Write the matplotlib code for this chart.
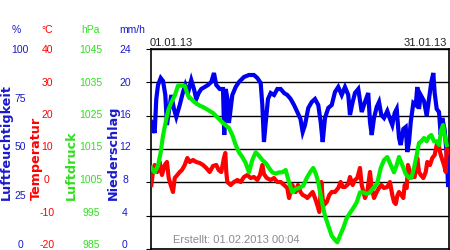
import matplotlib
matplotlib.use("Agg")
import matplotlib.pyplot as plt
import numpy as np

# ---- data (time in days since 01.01.13 00:00) ----
hum_t = [0.03, 0.38, 0.55, 0.73, 1.01, 1.25, 1.49, 1.66, 1.84, 2.11, 2.39, 2.63, 2.99, 3.33, 3.57,
         3.85, 4.19, 4.47, 4.71, 4.96, 5.23, 5.59, 5.93, 6.27, 6.55, 6.79, 7.15, 7.49, 7.62, 7.77,
         7.96, 8.11, 8.46, 8.81, 9.15, 9.67, 10.19, 10.71, 11.06, 11.41, 11.58, 11.75, 11.93, 12.17,
         12.45, 12.80, 13.14, 13.49, 13.84, 14.18, 14.53, 14.88, 15.22, 15.55, 15.78, 16.02, 16.36,
         16.72, 17.06, 17.40, 17.65, 17.86, 18.10, 18.44, 18.80, 19.14, 19.48, 19.84, 20.18, 20.52,
         20.70, 20.98, 21.22, 21.56, 21.92, 22.26, 22.60, 22.78, 22.96, 23.20, 23.48, 23.72, 23.96,
         24.24, 24.58, 24.86, 25.10, 25.35, 25.56, 25.80, 25.98, 26.25, 26.50, 26.66, 26.84, 27.02,
         27.29, 27.54, 27.70, 27.88, 28.06, 28.40, 28.68, 28.92, 29.16, 29.37, 29.51, 29.72, 29.96,
         30.14, 30.30, 30.55, 30.76, 30.90]
hum_v = [63.5, 58, 75, 82, 85.5, 84, 77, 62, 68, 77, 70, 66, 72, 78.5, 82,
         78, 84.5, 80, 75, 78, 80, 81, 82, 83.5, 88, 82, 80, 80, 57, 80,
         75, 63, 77, 81, 83.5, 86, 87, 87, 85.5, 83, 72, 53.5, 63, 75,
         78, 77, 80, 80, 78, 77, 75, 72, 68.5, 65, 58.5, 62, 70.5,
         73.5, 75, 72, 63.5, 53.5, 65.5, 70.5, 72, 78.5, 81, 77, 81, 77,
         67, 73.5, 78, 80, 68.5, 73.5, 78, 63.5, 57, 65.5, 71, 73.5, 67,
         65.5, 69, 65, 62, 68, 70, 55.5, 52, 60, 61, 48.5, 53.5, 63.5,
         73, 72, 81, 70, 77, 74, 66.5, 75, 83.5, 88, 78, 70, 68.5,
         57, 65.5, 59.5, 47, 32]

pres_t = [0.03, 0.38, 0.73, 1.01, 1.25, 1.59, 1.84, 2.11, 2.47, 2.81, 3.15, 3.51, 3.85, 4.19, 4.55,
          5.07, 5.41, 5.93, 6.45, 6.97, 7.49, 8.11, 8.46, 8.81, 9.15, 9.50, 9.85, 10.19, 10.54,
          10.89, 11.23, 11.58, 11.93, 12.28, 12.62, 12.97, 13.32, 13.66, 14.01, 14.36, 14.70, 15.05,
          15.40, 15.84, 16.20, 16.54, 16.88, 17.16, 17.40, 17.65, 17.86, 18.10, 18.44, 18.80, 19.14,
          19.38, 19.66, 20.00, 20.36, 20.70, 21.05, 21.40, 21.74, 22.08, 22.44, 22.78, 23.13, 23.20,
          23.54, 23.90, 24.24, 24.58, 24.94, 25.28, 25.56, 25.80, 26.14, 26.50, 26.84, 27.08, 27.36,
          27.64, 27.88, 28.12, 28.40, 28.68, 28.92, 29.16, 29.44, 29.72, 29.96, 30.20, 30.38, 30.55,
          30.76]
pres_v = [1009.3, 1008, 1010, 1014, 1019, 1024, 1027, 1029, 1031, 1034, 1034, 1034, 1031, 1030, 1029,
          1028, 1027.6, 1026.7, 1025.8, 1024.3, 1022.8, 1021.3, 1019.2, 1016.2, 1014, 1012.6, 1010.8,
          1008, 1011.7, 1014, 1013, 1011.7, 1010.8, 1009.3, 1008, 1007.6, 1008, 1008, 1008.7, 1005,
          1002, 1003, 1003.3, 1004, 1006.3, 1008, 1009.3, 1007.5, 1005, 1001.2, 998, 995, 992, 989,
          987.7, 987, 989, 991.3, 994.3, 995.8, 997.3, 999, 1002, 1002, 1001.5, 1002, 1003.3, 1003.3,
          1004.8, 1009.3, 1011.7, 1012.6, 1010.2, 1008, 1010.2, 1012.6, 1010.2, 1007.5, 1006.3, 1006.3,
          1009.3, 1013.2, 1016.8, 1017.3, 1018.3, 1017.3, 1018.7, 1019.2, 1017.3, 1017.3, 1016.2,
          1020.7, 1022.2, 1019.2, 1016.2]

temp_t = [0.03, 0.21, 0.38, 0.66, 0.90, 1.14, 1.43, 1.66, 1.84, 2.05, 2.29, 2.47, 2.74, 2.99, 3.22,
          3.51, 3.78, 4.03, 4.37, 4.71, 5.07, 5.41, 5.75, 6.11, 6.45, 6.79, 7.04, 7.31, 7.59, 7.73,
          7.83, 7.94, 8.29, 8.63, 8.98, 9.33, 9.67, 10.02, 10.37, 10.71, 11.06, 11.34, 11.58, 11.75,
          12.04, 12.45, 12.80, 13.14, 13.49, 13.84, 14.18, 14.36, 14.70, 15.05, 15.29, 15.55, 15.78,
          16.02, 16.26, 16.54, 16.82, 17.06, 17.30, 17.51, 17.65, 17.72, 17.86, 18.00, 18.28, 18.55,
          18.80, 19.14, 19.48, 19.73, 19.94, 20.18, 20.52, 20.70, 20.98, 21.22, 21.46, 21.74, 21.92,
          22.26, 22.50, 22.78, 22.96, 23.20, 23.48, 23.72, 23.96, 24.24, 24.58, 24.86, 25.10, 25.28,
          25.46, 25.62, 25.80, 26.04, 26.25, 26.39, 26.60, 26.73, 26.94, 27.18, 27.43, 27.70, 27.88,
          28.06, 28.33, 28.58, 28.74, 29.02, 29.26, 29.51, 29.72, 29.89, 30.06, 30.24, 30.48, 30.66,
          30.76, 30.90]
temp_v = [-0.8, 3.1, 5.2, 3.1, 6.1, 2.2, 5.2, 6.1, 1.3, -0.8, -2.9, 1.3, 2.2, 3.1, 3.7,
          5.2, 7.3, 6.1, 6.7, 6.1, 5.8, 5.2, 4.3, 3.1, 4.9, 5.2, 3.7, 3.1, 7.3, 8.8,
          3.1, 0.1, -0.8, 0.1, 0.7, 0.1, 1.6, 2.2, 1.3, 1.6, 0.7, 2.2, 5.2, 2.5,
          1.3, 0.7, 1.3, 0.1, 0.1, -0.8, -1.7, -4.7, -0.8, -2.9, -0.8, -2.9, -3.8,
          -4.1, -4.7, -3.8, -2.9, -4.7, -6.8, -8.9, -2.9, 0.1, -5.0, -6.8, -5.9, -3.8,
          -2.9, -2.9, -1.7, 0.1, -1.4, -1.4, -0.5, 1.6, -0.8, 0.7, 1.3, 4.3, -0.8,
          -4.7, -2.9, 3.1, -1.7, -4.7, -2.9, -1.7, -0.8, -1.7, -1.4, 0.1, -3.8, -5.9,
          -6.5, -4.1, -2.9, -3.8, -4.7, -0.8, -1.7, 5.2, 3.1, 1.6, 1.6, 7.3, 3.1,
          2.2, 1.3, 3.1, 6.1, 5.2, 7.3, 8.2, 11.2, 12.1, 9.1, 7.3, 5.2, 3.1,
          10, 9.1]

hum_ticks = ["100", "75", "50", "25", "0"]
temp_ticks = ["40", "30", "20", "10", "0", "-10", "-20"]
pres_ticks = ["1045", "1035", "1025", "1015", "1005", "995", "985"]
rain_ticks = ["24", "20", "16", "12", "8", "4", "0"]
units = ["%", "°C", "hPa", "mm/h"]
titles = ["Luftfeuchtigkeit", "Temperatur", "Luftdruck", "Niederschlag"]
date_start, date_end = "01.01.13", "31.01.13"
created = "Erstellt: 01.02.2013 00:04"

# ---- styling ----
W, H = 450, 250
plt.rcParams['font.family'] = ['Liberation Sans', 'DejaVu Sans']
BLUE = '#0000ee'
RED = '#ff0000'
GREEN = '#00ee00'
TBLUE = '#1a1acc'
TGREEN = '#33dd22'

fig = plt.figure(figsize=(W / 100, H / 100), dpi=100)
left, right, top, bottom = 151, 449, 49, 249
ax = fig.add_axes([left / W, 1 - bottom / H, (right - left) / W, (bottom - top) / H])
ax.set_xlim(0, 31)
ax.set_ylim(0, 100)
ax.set_yticks(np.linspace(0, 100, 7))
ax.set_xticks([])
ax.tick_params(left=False, labelleft=False)
ax.grid(axis='y', color='black', lw=1.0)
for s in ax.spines.values():
    s.set_color('black')
    s.set_linewidth(1.2)

ax.plot(hum_t, hum_v, color=BLUE, lw=3.0, solid_joinstyle='miter', zorder=3)

axT = ax.twinx()
axT.set_ylim(-20, 40)
axT.axis('off')
axT.plot(temp_t, temp_v, color=RED, lw=3.0, zorder=3)

axP = ax.twinx()
axP.set_ylim(985, 1045)
axP.axis('off')
axP.plot(pres_t, pres_v, color=GREEN, lw=3.0, zorder=3)

fs = 7.5
def fy(py):
    return 1 - py / H

def col(xc, labels, color):
    n = len(labels)
    for i, lab in enumerate(labels):
        py = 50 + i * 195 / (n - 1)
        fig.text(xc / W, fy(py), lab, color=color, fontsize=fs, ha='center', va='center')

col(20, hum_ticks, TBLUE)
col(47, temp_ticks, RED)
col(91, pres_ticks, TGREEN)
col(125, rain_ticks, TBLUE)

for xc, u, c in zip([16, 47, 90, 132], units, [TBLUE, RED, TGREEN, TBLUE]):
    fig.text(xc / W, fy(30), u, color=c, fontsize=fs, ha='center', va='center')

for xc, t, c in zip([6, 36, 71, 113], titles, [TBLUE, RED, TGREEN, TBLUE]):
    fig.text(xc / W, fy(200), t, color=c, fontsize=9.2, fontweight='bold',
             family='DejaVu Sans', rotation=90, ha='center', va='bottom')

fig.text(150 / W, fy(43), date_start, color='#222222', fontsize=8, ha='left', va='center')
fig.text(447 / W, fy(43), date_end, color='#222222', fontsize=8, ha='right', va='center')
fig.text(236 / W, fy(240), created, color='#8a8a96', fontsize=8, ha='center', va='center')

fig.savefig('out.png', dpi=100)
